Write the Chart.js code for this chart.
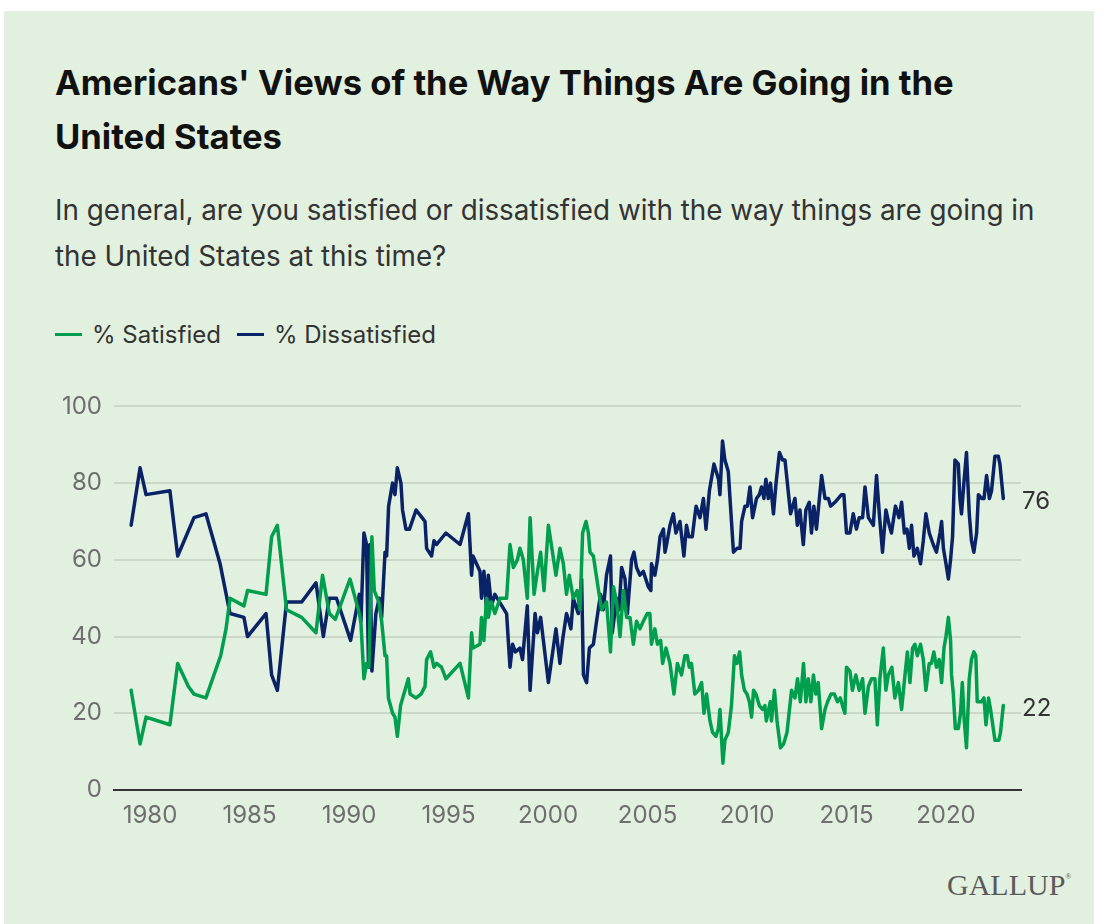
<!DOCTYPE html>
<html>
<head>
<meta charset="utf-8">
<script src="https://cdn.jsdelivr.net/npm/chart.js@4/dist/chart.umd.min.js"></script>
<style>
  body { margin: 0; background: #fff; font-family: Inter, "Noto Sans", sans-serif; }
  #panel { position: absolute; left: 4px; top: 11px; width: 1090px; height: 913px; background: #e2f0df; }
  #title { position: absolute; left: 55px; top: 55px; margin: 0; font-size: 34.6px; font-weight: 700; line-height: 54px; color: #111; width: 960px; }
  #subtitle { position: absolute; left: 55px; top: 187px; margin: 0; font-size: 27.8px; line-height: 46px; color: #333; width: 1010px; }
  #legend { position: absolute; left: 55px; top: 320px; font-size: 24px; color: #333; display: flex; gap: 16px; }
  #legend span.item { display: flex; align-items: center; }
  #legend span.swatch { display: inline-block; width: 27px; height: 3.5px; margin-right: 10px; }
  #wrap { position: absolute; left: 0; top: 380px; width: 1104px; height: 460px; }
  #logo { position: absolute; left: 947px; top: 862px; font-family: "Liberation Serif", "DejaVu Serif", serif; font-size: 30px; line-height: 30px; color: #5a5a5a; }
  #logo sup { font-size: 8px; vertical-align: 16px; }
</style>
</head>
<body>
<div id="panel"></div>
<h1 id="title">Americans' Views of the Way Things Are Going in the United States</h1>
<p id="subtitle">In general, are you satisfied or dissatisfied with the way things are going in the United States at this time?</p>
<div id="legend"></div>
<div id="wrap"><canvas id="chart" width="1104" height="460"></canvas></div>
<div id="logo">GALLUP<sup>®</sup></div>
<script>
// === DATA ===
const seriesNames = ['% Satisfied', '% Dissatisfied']
const seriesColors = ['#009e4d', '#0a2266']
const xTicks = [1980, 1985, 1990, 1995, 2000, 2005, 2010, 2015, 2020]
const yTicks = [0, 20, 40, 60, 80, 100]

const satisfiedDates = [1979.05, 1979.50, 1979.80, 1981.00, 1981.39, 1981.93, 1982.21, 1982.81, 1983.55, 1983.82, 1984.02,
  1984.72, 1984.90, 1985.83, 1986.11, 1986.40, 1986.86, 1987.62, 1988.34, 1988.67, 1989.01, 1989.31, 1990.05, 1990.52,
  1990.60, 1990.75, 1990.88, 1991.00, 1991.15, 1991.27, 1991.50, 1991.64, 1991.81, 1991.89, 1991.98, 1992.19, 1992.31,
  1992.43, 1992.59, 1992.98, 1993.07, 1993.37, 1993.62, 1993.82, 1993.90, 1994.10, 1994.27, 1994.40, 1994.65, 1994.87,
  1995.58, 1996.00, 1996.16, 1996.23, 1996.58, 1996.66, 1996.78, 1996.91, 1997.00, 1997.16, 1997.33, 1997.59, 1997.92,
  1998.09, 1998.26, 1998.46, 1998.59, 1998.76, 1998.96, 1999.10, 1999.30, 1999.47, 1999.63, 1999.80, 2000.02, 2000.40,
  2000.60, 2000.77, 2000.93, 2001.07, 2001.27, 2001.46, 2001.61, 2001.74, 2001.91, 2002.03, 2002.11, 2002.28, 2002.54,
  2002.69, 2002.94, 2003.14, 2003.29, 2003.45, 2003.62, 2003.79, 2003.95, 2004.12, 2004.29, 2004.45, 2004.62, 2004.79,
  2004.99, 2005.12, 2005.20, 2005.37, 2005.50, 2005.66, 2005.76, 2005.93, 2006.13, 2006.33, 2006.50, 2006.71, 2006.88,
  2007.00, 2007.10, 2007.21, 2007.38, 2007.56, 2007.72, 2007.84, 2007.97, 2008.14, 2008.27, 2008.44, 2008.56, 2008.64,
  2008.79, 2008.89, 2009.06, 2009.22, 2009.37, 2009.50, 2009.63, 2009.73, 2009.87, 2010.00, 2010.12, 2010.23, 2010.33,
  2010.45, 2010.62, 2010.78, 2010.90, 2010.97, 2011.17, 2011.23, 2011.38, 2011.51, 2011.68, 2011.84, 2012.01, 2012.24,
  2012.41, 2012.54, 2012.68, 2012.84, 2012.96, 2013.08, 2013.21, 2013.34, 2013.46, 2013.58, 2013.75, 2013.92, 2014.05,
  2014.22, 2014.39, 2014.55, 2014.69, 2014.80, 2014.92, 2015.00, 2015.17, 2015.30, 2015.47, 2015.64, 2015.81, 2015.93,
  2016.10, 2016.26, 2016.43, 2016.55, 2016.68, 2016.85, 2016.98, 2017.10, 2017.28, 2017.43, 2017.61, 2017.77, 2017.94,
  2018.06, 2018.19, 2018.32, 2018.44, 2018.56, 2018.72, 2018.86, 2018.99, 2019.16, 2019.27, 2019.39, 2019.52, 2019.66,
  2019.78, 2019.90, 2020.00, 2020.12, 2020.23, 2020.28, 2020.37, 2020.47, 2020.62, 2020.73, 2020.82, 2020.92, 2021.03,
  2021.17, 2021.28, 2021.40, 2021.50, 2021.57, 2021.79, 2021.91, 2022.01, 2022.14, 2022.24, 2022.46, 2022.66, 2022.74,
  2022.88]
const satisfiedValues = [26, 12, 19, 17, 33, 27, 25, 24, 35, 42, 50,
  48, 52, 51, 66, 69, 47, 45, 41, 56, 46, 44.5, 55, 46,
  43.5, 29, 33, 32, 66, 52, 49, 44, 35, 35, 24, 20, 19,
  14, 22, 29, 25, 24, 25, 27, 34, 36, 32, 33, 32, 29,
  33, 24, 41, 37, 38, 45, 39, 50, 45, 49, 46, 50, 50,
  64, 58, 60, 63, 60, 50, 71, 51, 57, 62, 52, 69, 56,
  63, 59, 51, 56, 50, 52, 47, 67, 70, 67, 62, 61, 52,
  47, 49, 36, 53, 49, 40, 52, 45, 45, 38, 44, 42, 44,
  46, 46, 38, 42, 38, 39, 33, 37, 33, 25, 33, 30, 35,
  35, 32, 33, 25, 26, 28, 20, 25, 18, 15, 14, 16, 21,
  7, 13, 15, 22, 35, 33, 36, 30, 26, 25, 23, 19, 26,
  25, 22, 21, 22, 18, 23, 18, 26, 18, 11, 12, 15, 26,
  24, 29, 23, 33, 23, 29, 23, 30, 25, 28, 16, 21, 23,
  25, 25, 23, 24, 22, 20, 32, 31, 26, 30, 26, 29, 20,
  27, 29, 29, 17, 29, 37, 26, 30, 32, 24, 28, 21, 30,
  36, 28, 37, 38, 35, 38, 34, 26, 33, 33, 36, 32, 34,
  28, 37, 40, 45, 39, 30, 25, 16, 16, 20, 28, 18, 11,
  29, 34, 36, 35, 23, 23, 24, 17, 24, 21, 13, 13, 15,
  22]

const dissatisfiedDates = [1979.05, 1979.50, 1979.80, 1981.00, 1981.39, 1982.21, 1982.81, 1983.52, 1984.02, 1984.72,
  1984.90, 1985.83, 1986.11, 1986.40, 1986.86, 1987.62, 1988.34, 1988.71, 1989.01, 1989.37, 1990.08, 1990.52, 1990.60,
  1990.75, 1990.88, 1990.98, 1991.05, 1991.15, 1991.35, 1991.52, 1991.64, 1991.81, 1991.89, 1991.99, 1992.19, 1992.31,
  1992.43, 1992.61, 1992.69, 1992.86, 1993.04, 1993.37, 1993.67, 1993.82, 1993.90, 1994.15, 1994.27, 1994.40, 1994.87,
  1995.58, 1996.00, 1996.16, 1996.23, 1996.58, 1996.66, 1996.78, 1996.91, 1997.00, 1997.16, 1997.33, 1997.92, 1998.09,
  1998.22, 1998.36, 1998.59, 1998.72, 1998.96, 1999.10, 1999.35, 1999.47, 1999.63, 2000.02, 2000.40, 2000.60, 2000.73,
  2000.93, 2001.05, 2001.15, 2001.27, 2001.52, 2001.69, 2001.78, 2001.94, 2002.08, 2002.28, 2002.44, 2002.64, 2002.78,
  2002.94, 2003.14, 2003.23, 2003.45, 2003.57, 2003.70, 2003.87, 2003.99, 2004.20, 2004.32, 2004.45, 2004.62, 2004.79,
  2005.04, 2005.17, 2005.20, 2005.37, 2005.50, 2005.63, 2005.80, 2005.88, 2005.96, 2006.13, 2006.30, 2006.43, 2006.63,
  2006.83, 2006.96, 2007.08, 2007.25, 2007.44, 2007.64, 2007.81, 2007.94, 2008.11, 2008.34, 2008.57, 2008.64, 2008.77,
  2008.89, 2009.06, 2009.32, 2009.50, 2009.65, 2009.73, 2009.90, 2010.02, 2010.15, 2010.28, 2010.48, 2010.62, 2010.73,
  2010.85, 2010.95, 2011.07, 2011.18, 2011.33, 2011.46, 2011.63, 2011.79, 2011.91, 2012.19, 2012.41, 2012.53, 2012.66,
  2012.83, 2012.96, 2013.13, 2013.24, 2013.36, 2013.49, 2013.75, 2013.92, 2014.09, 2014.20, 2014.42, 2014.59, 2014.75,
  2014.87, 2015.00, 2015.17, 2015.34, 2015.50, 2015.64, 2015.81, 2015.93, 2016.10, 2016.35, 2016.51, 2016.65, 2016.81,
  2016.98, 2017.15, 2017.26, 2017.46, 2017.64, 2017.77, 2017.91, 2018.04, 2018.16, 2018.27, 2018.39, 2018.56, 2018.72,
  2018.86, 2018.99, 2019.16, 2019.36, 2019.52, 2019.70, 2019.78, 2019.87, 2020.00, 2020.12, 2020.23, 2020.33, 2020.45,
  2020.62, 2020.70, 2020.78, 2020.90, 2021.03, 2021.17, 2021.28, 2021.40, 2021.54, 2021.63, 2021.79, 2021.91, 2022.04,
  2022.18, 2022.29, 2022.46, 2022.63, 2022.71, 2022.88]
const dissatisfiedValues = [69, 84, 77, 78, 61, 71, 72, 59, 46, 45,
  40, 46, 30, 26, 49, 49, 54, 40, 50, 50, 39, 51, 44,
  67, 64, 32, 64, 31, 46, 50, 45, 62, 61, 74, 80, 77,
  84, 80, 73, 68, 68, 73, 71, 70, 63, 61, 65, 64, 67,
  64, 72, 56, 61, 57, 50, 57, 47, 56, 48, 51, 46, 32,
  38, 36, 37, 34, 48, 26, 46, 41, 45, 28, 42, 33, 39,
  46, 44, 42, 50, 46, 55, 30, 28, 37, 38, 44, 51, 47,
  56, 61, 41, 50, 47, 58, 55, 46, 60, 62, 58, 56, 57,
  53, 52, 59, 56, 60, 66, 68, 62, 64, 69, 72, 67, 70,
  61, 69, 66, 66, 74, 71, 76, 68, 78, 85, 81, 77, 91,
  86, 83, 62, 63, 63, 70, 74, 74, 79, 71, 76, 77, 79,
  76, 81, 76, 80, 72, 80, 88, 86, 86, 72, 76, 69, 73,
  64, 73, 75, 67, 74, 68, 82, 76, 76, 74, 75, 76, 77,
  77, 67, 67, 72, 68, 71, 71, 79, 71, 69, 82, 72, 62,
  73, 69, 67, 74, 71, 75, 67, 68, 63, 69, 61, 63, 59,
  65, 72, 67, 64, 62, 67, 70, 63, 59, 55, 60, 66, 86,
  85, 76, 72, 80, 88, 72, 65, 62, 67, 77, 76, 76, 82,
  76, 78, 87, 87, 85, 76]

const toPoints = (xs, ys) => xs.map((x, i) => ({ x: x, y: ys[i] }))

// === LEGEND ===
const legendEl = document.getElementById('legend')
seriesNames.forEach((name, i) => {
  legendEl.insertAdjacentHTML('beforeend',
    '<span class="item"><span class="swatch" style="background:' + seriesColors[i] + '"></span>' + name + '</span>')
})

// === END LABELS ===
const endLabels = {
  id: 'endLabels',
  afterDatasetsDraw(chart) {
    const ctx = chart.ctx
    ctx.save()
    ctx.font = '24px Inter'
    ctx.fillStyle = '#333'
    ctx.textBaseline = 'middle'
    chart.data.datasets.forEach((ds, i) => {
      const pts = chart.getDatasetMeta(i).data
      const last = pts[pts.length - 1]
      const val = ds.data[ds.data.length - 1].y
      ctx.fillText(String(val), chart.chartArea.right + 1, last.y + 3)
    })
    ctx.restore()
  }
}

// === CHART ===
new Chart(document.getElementById('chart'), {
  type: 'line',
  data: {
    datasets: [
      { label: seriesNames[0], data: toPoints(satisfiedDates, satisfiedValues), borderColor: seriesColors[0] },
      { label: seriesNames[1], data: toPoints(dissatisfiedDates, dissatisfiedValues), borderColor: seriesColors[1] }
    ]
  },
  options: {
    responsive: false,
    animation: false,
    devicePixelRatio: 1,
    layout: { padding: { top: 26, right: 83, left: 0, bottom: 0 } },
    elements: {
      line: { borderWidth: 3.5, tension: 0, borderJoinStyle: 'round', borderCapStyle: 'round' },
      point: { radius: 0, hoverRadius: 0 }
    },
    plugins: { legend: { display: false }, tooltip: { enabled: false } },
    scales: {
      x: {
        type: 'linear',
        min: 1978.19,
        max: 2023.77,
        afterBuildTicks: s => { s.ticks = xTicks.map(v => ({ value: v })) },
        afterFit: s => { s.height = 50 },
        grid: { display: false },
        border: { display: true, color: '#333', width: 2 },
        ticks: { font: { family: 'Inter', size: 24 }, color: '#6e6e6e', padding: 3, maxRotation: 0, callback: v => String(v) }
      },
      y: {
        min: 0,
        max: 100,
        afterBuildTicks: s => { s.ticks = yTicks.map(v => ({ value: v })) },
        afterFit: s => { s.width = 114 },
        grid: { color: c => c.tick.value === 0 ? 'rgba(0,0,0,0)' : '#cbd8c8', lineWidth: 2, drawTicks: false },
        border: { display: false },
        ticks: { font: { family: 'Inter', size: 24 }, color: '#6e6e6e', padding: 12 }
      }
    }
  },
  plugins: [endLabels]
})
</script>
</body>
</html>
